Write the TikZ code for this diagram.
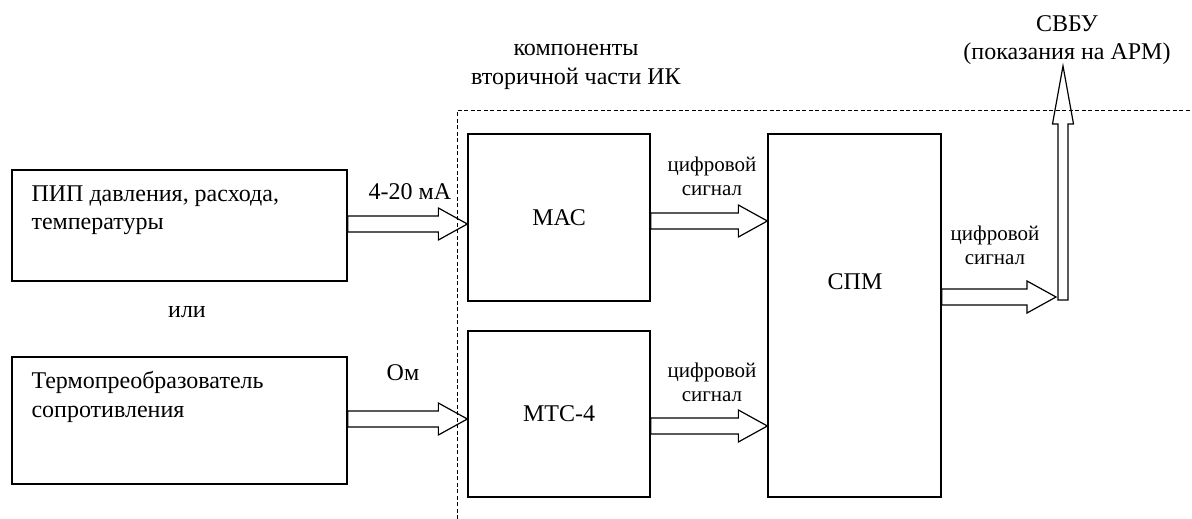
\documentclass[tikz,border=0pt]{standalone}
\usepackage{fontspec}
\setmainfont{Liberation Serif}[Ligatures=TeX]
\usetikzlibrary{calc}
\tikzset{
  blk/.style={draw, line width=1.3pt, inner sep=0pt},
  fat/.style={draw, line width=1.2pt, line join=miter},
  big/.style={font=\fontsize{24}{28.5}\selectfont},
  lbl/.style={font=\fontsize{21}{24}\selectfont, align=center},
  frame/.style={draw, line width=0.6pt, dash pattern=on 4pt off 2.5pt}
}
\newcommand\harrow[3]{%
  \draw[fat] let \p1=(#1), \p2=(#2) in
    (\x1,-#3pt+8pt) -- (\x2-29pt,-#3pt+8pt) -- (\x2-29pt,-#3pt+16pt) --
    (\x2,-#3pt) -- (\x2-29pt,-#3pt-16pt) -- (\x2-29pt,-#3pt-8pt) --
    (\x1,-#3pt-8pt) -- cycle;}
\begin{document}
\begin{tikzpicture}[x=1pt,y=-1pt]
\useasboundingbox (0,0) rectangle (1192,519);

% boxes
\node[blk, minimum width=335pt, minimum height=111pt] (pip) at (179.5,225.5) {};
\node[big, anchor=west, align=left] (piptxt) at (28,210) {ПИП давления, расхода,\\температуры};
\node[blk, minimum width=335pt, minimum height=127pt] (therm) at (179.5,420.5) {};
\node[big, anchor=west, align=left] (thermtxt) at (28,397) {Термопреобразователь\\сопротивления};
\node[big] (ili) at (187,312) {или};

\node[blk, big, minimum width=182pt, minimum height=167pt] (mac) at (559,217.5) {МАС};
\node[blk, big, minimum width=182pt, minimum height=166pt] (mtc) at (559,414) {МТС-4};
\node[blk, minimum width=173pt, minimum height=363pt] (spm) at (854.5,315.5) {};
\node[big] (spmtxt) at (855,282) {СПМ};

% labels
\node[big] (ma) at (410,192) {4-20 мА};
\node[big] (om) at (403,373) {Ом};
\node[lbl] (d1) at (712,176) {цифровой\\сигнал};
\node[lbl] (d2) at (712,382) {цифровой\\сигнал};
\node[lbl] (d3) at (995,245) {цифровой\\сигнал};
\node[big, align=center] (comp) at (576,67) {компоненты\\вторичной части ИК};
\node[big, align=center, inner sep=1pt] (svbu) at (1067,40) {СВБУ\\(показания на АРМ)};

% arrows
\harrow{pip.east}{mac.west}{224}
\harrow{therm.east}{mtc.west}{419}
\harrow{mac.east}{spm.west}{221}
\harrow{mtc.east}{spm.west}{426}
\coordinate (vb) at (1063,300);
\harrow{spm.east}{$(vb)+(-7,0)$}{297}
\draw[fat] let \p1=(vb), \p2=(svbu.south) in
  (\x1-5pt,\y1) -- (\x1-5pt,\y2-58pt) -- (\x1-10.5pt,\y2-58pt) --
  (\x1,\y2) -- (\x1+10.5pt,\y2-58pt) -- (\x1+5pt,\y2-58pt) --
  (\x1+5pt,\y1) -- cycle;

% dashed frame
\coordinate (fb) at (457,519);
\coordinate (fc) at (457,110);
\coordinate (fr) at (1192,110);
\draw[frame] (fb) -- (fc) -- (fr);
\end{tikzpicture}
\end{document}
